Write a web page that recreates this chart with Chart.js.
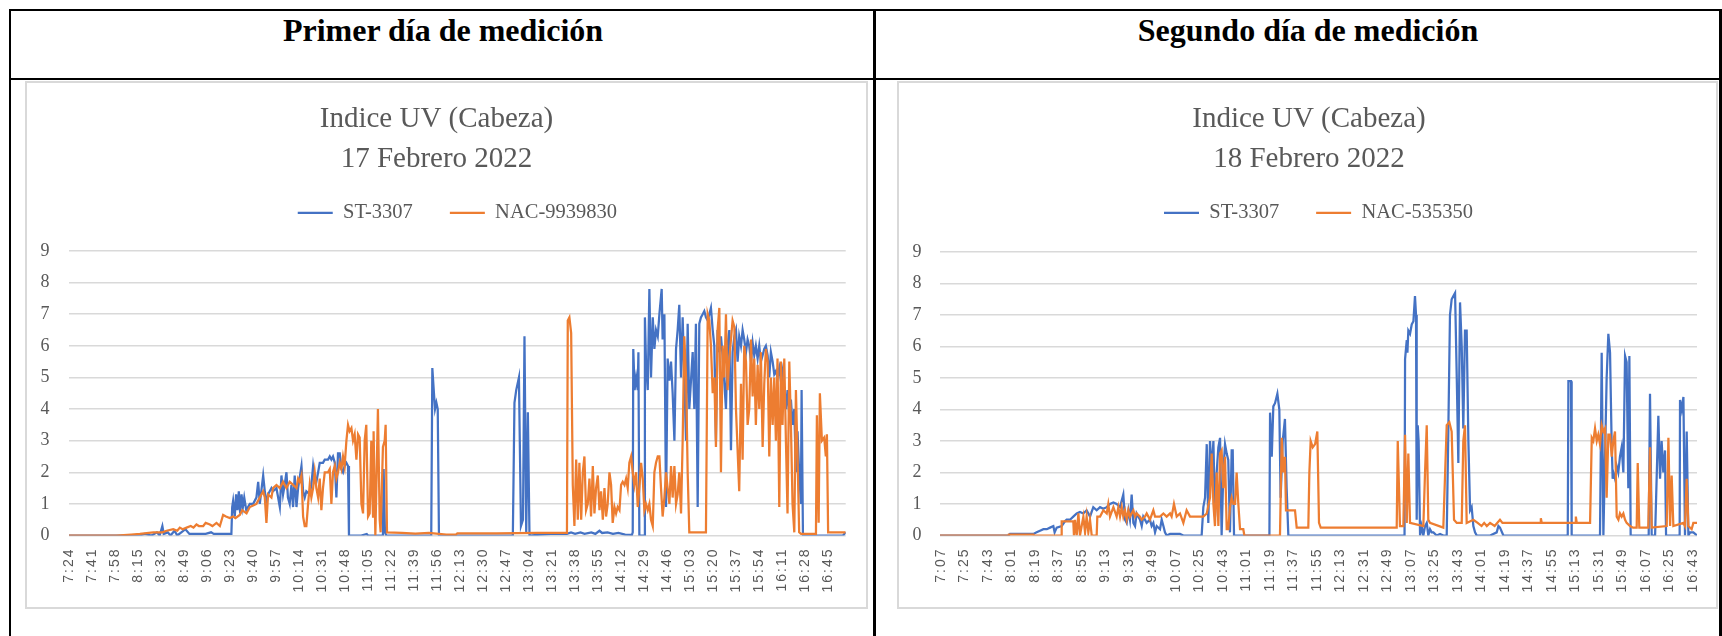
<!DOCTYPE html>
<html><head><meta charset="utf-8">
<script src="https://cdn.jsdelivr.net/npm/chart.js@4.4.1/dist/chart.umd.min.js"></script>
<style>
html,body{margin:0;padding:0;background:#fff;}
body{width:1722px;height:636px;position:relative;overflow:hidden;}
.b{position:absolute;background:#000;}
.box{position:absolute;box-sizing:border-box;border:2px solid #d9d9d9;}
.hdr{position:absolute;top:14px;width:700px;text-align:center;font:bold 32px/32px "Liberation Serif","Times New Roman",serif;color:#000;}
canvas{position:absolute;}
</style></head><body>
<div class="b" style="left:9px;top:9px;width:1713px;height:2px"></div>
<div class="b" style="left:9px;top:78px;width:1713px;height:2px"></div>
<div class="b" style="left:9px;top:9px;width:2px;height:627px"></div>
<div class="b" style="left:873px;top:9px;width:3px;height:627px"></div>
<div class="b" style="left:1719px;top:9px;width:3px;height:627px"></div>
<div class="hdr" style="left:93px">Primer día de medición</div>
<div class="hdr" style="left:958px">Segundo día de medición</div>
<div class="box" style="left:25px;top:81px;width:843px;height:528px"></div>
<div class="box" style="left:897px;top:81px;width:821px;height:528px"></div>
<canvas id="c1" width="825" height="526" style="left:24px;top:82px"></canvas>
<canvas id="c2" width="822" height="526" style="left:898px;top:82px"></canvas>
<script>
// ---------- tick labels (time of day) ----------
const d1Ticks = ['7:24','7:41','7:58','8:15','8:32','8:49','9:06','9:23','9:40','9:57','10:14','10:31','10:48','11:05','11:22','11:39','11:56','12:13','12:30','12:47','13:04','13:21','13:38','13:55','14:12','14:29','14:46','15:03','15:20','15:37','15:54','16:11','16:28','16:45'];
const d2Ticks = ['7:07','7:25','7:43','8:01','8:19','8:37','8:55','9:13','9:31','9:49','10:07','10:25','10:43','11:01','11:19','11:37','11:55','12:13','12:31','12:49','13:07','13:25','13:43','14:01','14:19','14:37','14:55','15:13','15:31','15:49','16:07','16:25','16:43'];

// ---------- series: [minute of day, UV index] ----------
const d1ST = [[444,0],[496,0],[500,0.05],[505,0],[509,0.1],[511,0],[513,0.3],[514,0.05],[517,0.1],[519,0],[522,0.15],[524,0],[527,0.1],[530,0.2],[533,0.05],[545,0.05],[549,0.1],[551,0.05],[564,0.05],
[564.6,0.9],[565.3,1.1],[566.5,0.6],[567.5,1.3],[568.5,0.8],[569.5,1.4],[570.5,0.7],[571.5,1.3],[572.5,0.9],[573.5,1.2],[575,0.8],[577.6,1.0],[580.1,1.0],[582.5,1.2],[583.8,1.7],[585,1.0],[587.5,1.9],[588.7,1.4],[589.9,1.0],[591.1,1.3],[593.6,1.5],[594.8,1.4],[597.3,1.5],[599.8,0.9],[601,1.9],[602.2,1.3],[603.4,1.6],[604.7,2.0],[605.8,1.2],[607.1,1.0],[608.4,1.6],[609.6,0.9],[610.8,1.9],[612.1,0.9],[613.3,1.5],[615.8,2.2],[617,1.4],[618.2,1.2],[619.4,1.4],[621.9,1.3],[623.1,1.6],[624.4,2.2],[625.6,1.8],[626.8,1.7],[628.1,2.0],[629.3,2.3],[630.5,2.3],[631.7,2.3],[633,2.4],[635.4,2.4],[636.7,2.5],[637.9,2.4],[639.1,2.5],[640.4,2.3],[641.6,1.2],[642.8,2.6],[644.1,2.6],[645.3,2.1],[646.5,2.0],[647.7,2.2],[649,2.3],[650.2,2.2],[650.9,0],
[660,0],[664,0.05],[665,0],[676,0],[676.5,2.1],[677.5,0.1],[678.5,0],[711.7,0],[712.5,5.3],[713.7,4.5],[714.5,4.0],[715.5,4.2],[716.5,4.0],[717.4,0],
[772,0],[773.2,4.2],[774.5,4.6],[776.5,5.0],[778,0.3],[779.5,0.5],[780.6,6.3],[781.9,0.1],[783.1,3.9],[784.3,0],
[790,0.02],[800,0.05],[812,0.05],[815,0.1],[818,0.05],[822,0.1],[825,0.05],[830,0.1],[833,0.05],[836,0.15],[838,0.08],[842,0.1],[846,0.05],[850,0.08],[855,0.03],[860,0.02],
[860.6,0.1],[861,5.9],[862,4.6],[863.1,5.0],[864.3,4.6],[864.8,5.8],[865.5,0],[869,0],[869.6,6.9],[870.4,5.5],[871.7,4.6],[872.9,7.8],[874.1,5.0],[875.4,6.9],[876.6,5.9],[877.8,6.5],[879.1,6.3],[880.3,7.0],[882,7.8],[882.7,6.2],[884,7.0],[885.2,0.9],[886.4,5.6],[887.7,4.9],[888.9,5.5],[890.1,4.5],[891.4,3.0],[892.6,5.9],[893.8,6.5],[895,7.3],[896.3,5.0],[897.5,6.9],[898.7,5.0],[900,3.0],[901.2,6.7],[902.4,4.0],[904.9,5.8],[906.1,4.0],[907.3,6.7],[908.6,0.9],[909.8,6.7],[911,6.9],[912.3,7.0],[913.5,7.1],[914.7,6.9],[916,6.8],[917.2,7.0],[918.4,7.2],[919.7,6.5],[920.9,6.0],[922.1,3.0],[923.3,6.5],[924.6,5.8],[925.8,6.3],[927,5.7],[929.5,4.0],[930.7,6.0],[932,6.5],[933.2,2.7],[934.4,5.8],[935.7,6.3],[936.9,6.5],[938.1,5.5],[939.3,6.3],[940.6,6.0],[941.8,6.5],[943,6.2],[944.3,5.8],[945.5,6.2],[946.7,6.0],[948,5.5],[949.2,6.1],[950.4,5.7],[951.6,6.0],[952.9,5.6],[954.1,6.0],[955.3,5.5],[956.6,5.7],[957.8,5.9],[959,6.0],[960.3,5.7],[961.5,5.0],[962.7,5.8],[964,5.5],[965.2,5.1],[966.4,5.2],[967.6,5.0],[968.9,5.3],[970.1,4.9],[971.3,5.2],[972.6,4.5],[973.8,4.0],[975,4.6],[976.3,3.8],[977.5,4.3],[978.7,3.5],[980,4.0],[981.2,2.0],[982.4,3.3],[983.6,2.0],[984.9,1.0],[985.4,4.6],[986.4,0],[1016,0],[1017,0.05],[1018,0.1]];

const d1NAC = [[444,0],[479,0],[490,0.03],[496.4,0.05],[506.3,0.1],[513,0.1],[516.1,0.15],[521,0.2],[524,0.15],[525.9,0.25],[528,0.2],[530.9,0.25],[534,0.3],[536,0.25],[538.2,0.35],[540,0.3],[543.2,0.3],[545,0.4],[548.1,0.35],[550,0.3],[553,0.4],[555.5,0.3],[557.9,0.65],[560,0.6],[562.8,0.55],[565.3,0.6],[567,0.55],[570.2,0.65],[572,0.8],[575.2,0.7],[577.6,0.9],[580.1,0.95],[582.5,1.0],[585,1.2],[587.5,1.4],[588.7,1.2],[589.9,0.4],[591.1,1.3],[593.6,1.2],[594.8,1.5],[597.3,1.6],[599.8,1.5],[602.2,1.7],[604.7,1.5],[607.1,1.7],[609.6,1.6],[612.1,1.5],[613.3,1.8],[614.5,1.7],[615.8,1.9],[617,0.6],[618.2,0.3],[619.4,0.3],[620.7,1.0],[621.9,1.6],[623.1,1.2],[624.4,1.5],[625.6,2.0],[626.8,1.5],[628.1,1.2],[629.3,1.8],[630.5,0.8],[631.7,1.5],[633,2.0],[635.4,2.0],[636.7,2.1],[637.9,1.0],[639.1,2.0],[640.4,2.2],[641.6,1.8],[642.8,2.0],[644.1,2.3],[645.3,2.1],[646.5,2.5],[647.7,2.2],[649,3.0],[650.2,3.5],[651.4,3.3],[652.7,3.4],[653.9,3.0],[655.1,3.2],[656.4,2.4],[657.6,3.2],[658.8,3.1],[660.1,1.0],[661.3,0.7],[662.5,3.0],[663.7,3.5],[665,0.6],[666.2,0.7],[667.4,3.0],[668.2,1.2],[668.7,0.6],[669.1,3.3],[670.4,0],[671.6,2.5],[672.3,4.0],[673.6,0.5],[674.3,0.1],[676,2.8],[677.3,3.0],[678,3.5],[679,0.1],[690,0.08],[700,0.06],[710,0.08],
[722.8,0.03],[730,0.03],[731,0.07],[760,0.07],[790,0.08],[812,0.08],[812.6,6.8],[813.8,6.9],[815.1,6.4],[816.3,1.6],[817.5,0.3],[818.8,2.4],[820,0.5],[821.2,2.3],[822.5,0.5],[823.7,2.0],[824.9,2.5],[826.1,0.8],[827.4,1.0],[828.6,1.8],[829.8,0.6],[831.1,2.2],[832.3,0.7],[833.5,1.5],[834.8,1.9],[836,0.8],[837.2,1.4],[838.5,0.5],[839.7,1.5],[840.9,0.6],[842.1,1.0],[843.4,2.0],[844.6,1.6],[845.8,0.4],[847.1,0.9],[848.3,0.7],[849.5,0.9],[850.8,0.8],[852,1.6],[853.2,1.7],[854.5,1.6],[855.7,1.8],[856.9,1.5],[858.1,2.3],[859.4,2.5],[860.6,2.0],[861.8,1.6],[863.1,2.0],[864.3,0.9],[865.5,1.5],[866.8,2.3],[868,1.8],[869.2,0.8],[870.4,1.0],[871.7,0.8],[872.9,1.0],[874.1,0.5],[875.4,0.3],[876.6,2.0],[877.8,2.3],[879.1,2.5],[880.3,2.5],[881.5,1.5],[882.7,0.6],[884,1.2],[885.2,2.0],[886.4,1.5],[887.7,1.0],[888.9,2.2],[890.1,1.2],[891.4,2.2],[892.6,1.0],[893.8,1.3],[895,2.0],[896.3,0.7],[897.5,3.0],[898.7,6.3],[900,5.0],[901.2,2.0],[902.4,0.1],[914.7,0.1],
[916,7.0],[917.2,6.8],[918.4,6.0],[919.7,4.5],[920.9,5.0],[922.1,2.8],[923.3,6.5],[924.6,7.2],[925.8,2.0],[927,6.0],[928.3,5.0],[929.5,7.0],[930.7,4.6],[932,5.6],[933.2,6.2],[934.4,6.8],[935.7,6.6],[936.9,4.0],[938.1,2.7],[939.3,1.4],[940.6,4.8],[941.8,2.4],[943,6.0],[944.3,5.5],[945.5,3.5],[946.7,4.0],[948,6.2],[949.2,4.4],[950.4,5.6],[951.6,3.5],[952.9,5.4],[954.1,4.0],[955.3,5.8],[956.6,2.8],[957.8,4.8],[959,5.9],[960.3,5.5],[961.5,2.5],[962.7,5.0],[964,3.5],[965.2,5.0],[966.4,3.0],[967.6,5.6],[968.9,0.9],[970.1,5.5],[971.3,3.5],[972.6,5.6],[973.8,3.0],[975,0.7],[976.3,5.5],[977.5,3.5],[978.7,1.0],[980,0.1],[981.2,4.6],[982.4,2.5],[983.6,0.1],[985,0.05],[996,0.05],[996.7,3.8],[998,0.4],[998.9,4.5],[1000.4,3.0],[1002.1,3.1],[1003.3,2.5],[1004.1,3.2],[1005,0.1],[1018,0.1]];

const d2ST = [[426,0],[478.5,0],[479.8,0.05],[497.7,0.05],[500.2,0.1],[502.8,0.15],[505.4,0.2],[508,0.2],[510.5,0.25],[513,0.3],[514,0.1],[515.6,0.25],[519.4,0.3],[521.9,0.45],[523.2,0.5],[525.8,0.5],[528.3,0.6],[530.9,0.7],[533.4,0.75],[536,0.7],[538.5,0.8],[541.1,0.6],[543.6,0.9],[546.2,0.8],[548.8,0.9],[551.3,0.85],[553.9,0.9],[556.4,1.0],[559,1.05],[561.5,1.0],[564.1,0.9],[566.6,1.3],[567.9,0.5],[569.2,0.4],[570.5,0.8],[571.7,0.5],[573,1.3],[574.3,0.4],[575.6,0.3],[576.8,0.7],[579.4,0.5],[580.7,0.3],[581.9,0.6],[584.5,0.4],[587,0.5],[588.3,0.3],[589.6,0.4],[590.9,0.1],[592.2,0.3],[594.7,0.2],[596,0.5],[597.3,0.3],[598.5,0.1],[599.8,0],[602.4,0.05],[610,0.05],[612.6,0],[626.6,0],[627.9,0.9],[629.2,1.2],[630.5,2.9],[631.7,0.4],[633,3.0],[634.3,2.0],[635.6,3.0],[636.8,0.6],[638.1,2.0],[639.4,2.8],[640.7,3.1],[641.9,0],[643.2,2.0],[644.5,2.9],[645.8,2.6],[647,2.4],[648.3,0.1],[649.6,2.7],[650.4,2.7],[651.4,0],[678.5,0],[679,3.9],[680.3,2.5],[681.5,4.1],[682.8,4.2],[684.6,4.5],[686.1,4.0],[687.1,1.2],[688.7,3.0],[690.4,3.7],[691.7,1.5],[693,0],
[782,0],[782.4,5.6],[783.7,6.2],[784.2,5.8],[784.9,6.5],[786.2,6.4],[787.5,6.7],[788.8,6.8],[790,7.6],[790.8,7.0],[791.3,0.5],[792.1,3.5],[792.8,3.0],[793.9,0],[795.1,0.3],[796.4,0],[797.7,0.3],[799,0.4],[800.2,0],[801.5,0.2],[802.8,0.1],[804.1,0.1],[806.6,0],[809.2,0.05],[811.7,0],[814.3,0],[815.6,3.5],[816.8,7.0],[818.1,7.5],[819.4,7.6],[820.7,7.7],[822,5.0],[823.2,2.3],[824.5,7.4],[825.8,6.0],[827,3.4],[828.3,6.5],[829.6,6.5],[830.9,3.0],[832.2,0.8],[833.4,0.9],[834.7,0.3],[836,0.1],[837.3,0],[847.6,0],[852.6,0.1],[853.9,0.3],[855.1,0.25],[857.7,0],[907,0],[907.5,4.9],[909.5,4.9],[910,0],[931.7,0],[933,5.8],[934.3,0],[936.8,5.0],[938.1,6.4],[939.4,5.8],[940.6,3.0],[941.4,1.8],[941.9,2.0],[943.2,1.8],[944.5,2.2],[945.7,2.0],[947,2.5],[948.3,2.8],[949.6,2.0],[950.9,5.7],[952.1,5.5],[953.4,1.5],[954.2,5.7],[955.2,0],[969,0],[970,4.5],[971.3,0],[973.9,0],[976.4,3.8],[977.7,1.8],[978.9,3.0],[980.2,2.0],[981.5,2.7],[982.3,0],[992.7,0],[993,4.3],[994.3,4.0],[995.6,4.4],[996.8,0],[998.1,3.3],[999.4,0],[1000.7,0.1],[1003.2,0.1],[1006,0]];

const d2NAC = [[426,0],[434,0],[478.5,0],[479,0.03],[497.7,0.03],[498,0],[519,0],[519.4,0.45],[528.3,0.45],[528.8,0],[529.6,0.5],[530.9,0],[532.2,0.7],[533.4,0],[536,0.6],[537.3,0.1],[538.5,0.6],[539.8,0.1],[541.1,0.5],[542.4,0],[546.2,0],[546.7,0.6],[548.8,0.6],[551.3,0.8],[553.9,0.7],[555.1,1.0],[556.4,0.6],[559,0.9],[561.5,0.6],[562.8,0.9],[564.1,0.6],[565.4,0.9],[566.6,0.6],[567.9,0.8],[569.2,0.5],[570.5,0.8],[571.7,0.6],[574.3,0.8],[575.6,0.6],[576.8,0.7],[579.4,0.6],[580.7,0.5],[583.2,0.6],[584.5,0.7],[585.8,0.6],[587,0.5],[589.6,0.8],[590.9,0.6],[594.7,0.6],[597.3,0.7],[599.8,0.6],[602.4,0.7],[603.6,0.6],[605.4,1.0],[607.5,0.6],[610,0.7],[612.6,0.4],[615.1,0.8],[617.7,0.6],[622.8,0.6],[627.9,0.6],[630.5,0.7],[633,1.2],[634.3,2.6],[635.6,1.0],[636.8,0.3],[638.1,2.0],[639.4,0.3],[640.7,2.6],[641.9,2.7],[643.2,1.5],[644.5,2.5],[645.8,0.2],[647,0.2],[648.3,0.9],[649.6,1.2],[650.9,1.0],[652.2,1.0],[653.4,2.0],[654.7,1.0],[656,0.2],[658.5,0.2],[659.3,0],[686.6,0],[687.9,3.1],[689.2,2.0],[690.4,2.5],[691.2,0.8],[698.1,0.8],[699.4,0.25],
[708.3,0.25],[709.1,2.0],[710.1,3.0],[711.7,2.8],[713.5,2.9],[715.2,3.3],[716.5,0.4],[717.8,0.25],[776,0.25],[776.8,3.0],[778.5,0.3],[781.1,0.3],[782.4,3.2],[783.7,0.4],[784.9,2.6],[786.2,0.4],[796.4,0.3],[797.7,2.0],[799,3.5],[800.2,0.5],[801.5,0.4],[811.7,0.25],[814.3,3.5],[816.3,3.6],[818.1,3.3],[819.9,0.5],[822,0.4],[825.8,0.4],[827,3.0],[828.3,3.5],[829.6,0.4],[834.7,0.5],[838,0.4],[841,0.3],[843,0.4],[845,0.3],[847.5,0.4],[851,0.3],[855.1,0.5],[857,0.4],[885.8,0.4],[886.4,0.55],[887.1,0.4],[912.6,0.4],[913.2,0.6],[913.9,0.4],[924.1,0.4],[925.4,3.1],[926.6,3.0],[927.9,3.4],[929.2,3.0],[930.4,3.2],[931.7,2.9],[933,3.5],[934.3,3.3],[935.6,3.4],[936.8,1.2],[938.1,3.2],[939.4,3.2],[940.7,2.5],[941.9,3.0],[943.2,3.3],[944.5,0.6],[945.8,0.5],[947,0.7],[948.3,0.6],[949.6,0.7],[950.9,0.5],[952.1,0.4],[954.7,0.3],[957,0.25],[959.8,0.25],[960.6,2.3],[961.8,0.25],[968.7,0.25],[970,2.8],[971.3,0.25],[982.8,0.3],[984.1,3.1],[985.4,0.3],[986.6,1.9],[987.9,0.3],[995.6,0.4],[996.8,0.3],[998.1,1.8],[999.4,0.3],[1001.9,0.2],[1003.2,0.4],[1006,0.4]];

const BLUE = '#4472C4', ORANGE = '#ED7D31', GREY = '#595959';
const SERIF = '"Liberation Serif", "Times New Roman", serif';
const SANS = '"Liberation Sans", Arial, sans-serif';
const toMin = s => { const p = s.split(':').map(Number); return p[0] * 60 + p[1]; };

// wider tracking for the time labels (drawn after the datasets, z = 1)
const xLabelSpacing = {
  id: 'xLabelSpacing',
  afterDatasetsDraw(chart, args, opts) { chart.ctx.letterSpacing = opts.spacing || '0px'; },
  afterDraw(chart) { chart.ctx.letterSpacing = '0px'; }
};

function build(id, cfg) {
  new Chart(document.getElementById(id), {
    type: 'line',
    plugins: [xLabelSpacing],
    data: { datasets: [
      { label: cfg.names[0], data: cfg.st.map(([x, y]) => ({x, y})), borderColor: BLUE, backgroundColor: BLUE,
        borderWidth: 2.25, pointRadius: 0, tension: 0, order: 1 },
      { label: cfg.names[1], data: cfg.nac.map(([x, y]) => ({x, y})), borderColor: ORANGE, backgroundColor: ORANGE,
        borderWidth: 2.25, pointRadius: 0, tension: 0, order: 0 }
    ]},
    options: {
      responsive: false, animation: false, devicePixelRatio: 1,
      layout: { padding: 0 },
      plugins: {
        xLabelSpacing: { spacing: '2px' },
        title: { display: true, text: cfg.title, color: GREY,
          font: { family: SERIF, size: 29, weight: 'normal', lineHeight: 1.362 }, padding: { top: 17.9, bottom: -13.35 } },
        legend: { display: true, position: 'top', fullSize: false,
          labels: { boxWidth: 35, boxHeight: 0, padding: 37, color: GREY, font: { family: SERIF, size: 20.5 },
            sort: (a, b) => a.datasetIndex - b.datasetIndex } },
        subtitle: { display: true, text: ' ', weight: 500, fullSize: false, font: { size: 1, lineHeight: 1 },
          padding: { top: cfg.gap - 1, bottom: 0 } },
        tooltip: { enabled: false }
      },
      scales: {
        x: { type: 'linear', min: cfg.min, max: cfg.max,
          grid: { display: false }, border: { display: false },
          afterBuildTicks: s => { s.ticks = cfg.ticks.map(t => ({ value: toMin(t) })); },
          afterFit: s => { s.height = cfg.xh; },
          ticks: { autoSkip: false, minRotation: 90, maxRotation: 90, padding: 4, z: 1, color: GREY,
            font: { family: SANS, size: 14 }, callback: (v, i) => cfg.ticks[i] } },
        y: { min: 0, max: 9, border: { display: false },
          afterFit: s => { s.width = cfg.yw; },
          grid: { color: '#d9d9d9', lineWidth: 1.5, drawTicks: false },
          ticks: { stepSize: 1, padding: cfg.yPad, color: GREY, font: { family: SERIF, size: 18 } } },
        y2: { position: 'right', display: true, grid: { display: false }, border: { display: false },
          ticks: { display: false }, afterFit: s => { s.width = cfg.y2w; } }
      }
    }
  });
}

build('c1', { names: ['ST-3307', 'NAC-9939830'], st: d1ST, nac: d1NAC, ticks: d1Ticks,
  title: ['Indice UV (Cabeza)', '17 Febrero 2022'], min: toMin('7:24'), max: toMin('16:58'),
  yw: 45, y2w: 2, yPad: 19.5, gap: 17.95, xh: 72.5 });
build('c2', { names: ['ST-3307', 'NAC-535350'], st: d2ST, nac: d2NAC, ticks: d2Ticks,
  title: ['Indice UV (Cabeza)', '18 Febrero 2022'], min: toMin('7:07') - 0.8, max: toMin('16:46'),
  yw: 42, y2w: 23, yPad: 18.5, gap: 18.95, xh: 72.5 });
</script>
</body></html>
